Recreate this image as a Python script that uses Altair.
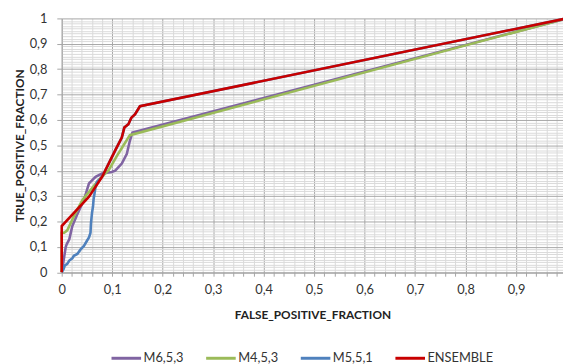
import altair as alt
import pandas as pd

series_names = ["M6,5,3", "M4,5,3", "M5,5,1", "ENSEMBLE"]
series_colors = ["#8064A2", "#9BBB59", "#4F81BD", "#C80000"]

m653_fpr = [0, 0.008, 0.010, 0.015, 0.018, 0.021, 0.030, 0.044, 0.054, 0.067, 0.080, 0.099, 0.106, 0.119, 0.129, 0.135, 0.140, 1.0]
m653_tpr = [0, 0.100, 0.111, 0.130, 0.156, 0.182, 0.225, 0.285, 0.350, 0.376, 0.389, 0.395, 0.400, 0.428, 0.467, 0.518, 0.550, 1.0]

m453_fpr = [0, 0, 0.005, 0.011, 0.024, 0.041, 0.073, 0.093, 0.112, 0.135, 1.0]
m453_tpr = [0, 0.156, 0.156, 0.165, 0.220, 0.285, 0.363, 0.402, 0.467, 0.540, 1.0]

m551_fpr = [0, 0.004, 0.006, 0.011, 0.015, 0.021, 0.024, 0.031, 0.037, 0.044, 0.050, 0.054, 0.057, 0.058, 0.060, 0.062, 0.063, 0.067, 0.070, 0.080, 0.093, 0.106, 0.119, 0.124, 0.132, 0.138, 0.145, 0.155, 1.0]
m551_tpr = [0, 0.014, 0.026, 0.033, 0.046, 0.055, 0.065, 0.072, 0.089, 0.104, 0.124, 0.137, 0.156, 0.195, 0.234, 0.260, 0.285, 0.337, 0.357, 0.376, 0.428, 0.480, 0.531, 0.570, 0.583, 0.609, 0.622, 0.654, 1.0]

ens_fpr = [0, 0, 0.054, 0.080, 0.093, 0.106, 0.119, 0.124, 0.132, 0.138, 0.145, 0.155, 1.0]
ens_tpr = [0, 0.182, 0.298, 0.376, 0.428, 0.480, 0.531, 0.570, 0.583, 0.609, 0.622, 0.654, 1.0]

x_ticks = [round(i * 0.02, 2) for i in range(50)]
y_ticks = [round(i * 0.01, 2) for i in range(101)]

rows = []
for name, xs, ys in zip(series_names,
                        [m653_fpr, m453_fpr, m551_fpr, ens_fpr],
                        [m653_tpr, m453_tpr, m551_tpr, ens_tpr]):
    for i, (a, b) in enumerate(zip(xs, ys)):
        rows.append({"series": name, "fpr": a, "tpr": b, "idx": i})
df = pd.DataFrame(rows)

W, H = 508.5, 257.5
major = "abs(datum.value*10 - round(datum.value*10)) < 0.001"
lbl = "(" + major + ") ? replace(format(datum.value, '~g'), '.', ',') : ''"

x_enc = alt.X("fpr:Q", title="FALSE_POSITIVE_FRACTION",
              scale=alt.Scale(domain=[0, 0.993], nice=False, zero=False),
              axis=alt.Axis(values=x_ticks, labelExpr=lbl, labelOverlap=False, labelFlush=False,
                            grid=True,
                            gridColor={"condition": {"test": major, "value": "#A6A6A6"}, "value": "#D9D9D9"},
                            tickSize=4, tickColor="#A6A6A6", domainColor="#A6A6A6",
                            labelPadding=8, titleX=W / 2, titleY=42.5, titleBaseline="middle"))
y_enc = alt.Y("tpr:Q", title="TRUE_POSITIVE_FRACTION",
              scale=alt.Scale(domain=[0, 1], nice=False),
              axis=alt.Axis(values=y_ticks, labelExpr=lbl, labelOverlap=False, labelFlush=False,
                            grid=True,
                            gridColor={"condition": {"test": major, "value": "#A6A6A6"}, "value": "#D9D9D9"},
                            tickSize={"condition": {"test": major, "value": 5}, "value": 0},
                            tickColor="#A6A6A6", domainColor="#A6A6A6",
                            labelPadding=10, titleX=-42.5, titleY=H / 2, titleAngle=-90,
                            titleBaseline="middle"))
color_enc = alt.Color("series:N",
                      scale=alt.Scale(domain=series_names, range=series_colors),
                      legend=alt.Legend(orient="none", legendX=49, legendY=328, direction="horizontal",
                                        title=None, symbolType="stroke", symbolSize=900,
                                        symbolStrokeWidth=3, labelFont="Lato", labelFontSize=13,
                                        labelColor="#333333", columnPadding=16, labelOffset=1))

base = alt.Chart(df)
layers = []
for name in series_names:
    layers.append(
        base.transform_filter(alt.datum.series == name)
        .mark_line(strokeWidth=2.6, interpolate="linear")
        .encode(x=x_enc, y=y_enc, color=color_enc, order="idx:Q")
    )

chart = alt.layer(*layers).properties(
    width=W, height=H,
    padding={"left": 54.5, "top": 8, "right": 0, "bottom": 90.5},
    autosize="none",
).configure_view(stroke=None).configure_axis(
    labelFont="Lato", labelFontSize=13, labelColor="#333333",
    titleFont="Lato", titleFontSize=12, titleFontWeight="bold", titleColor="#222222",
)

chart.save("out.html", embed_options={"renderer": "svg", "actions": False})
